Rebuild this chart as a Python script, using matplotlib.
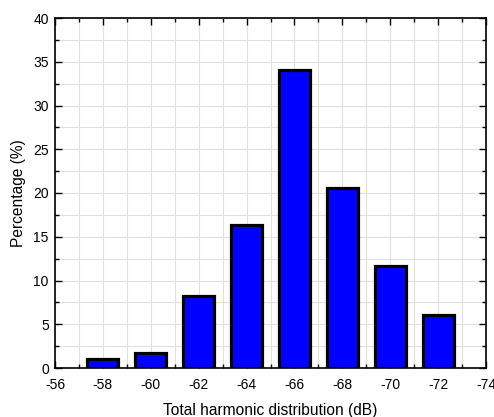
import matplotlib.pyplot as plt
from matplotlib.ticker import MultipleLocator

plt.rcParams['font.family'] = ['Liberation Sans', 'DejaVu Sans']
plt.rcParams['axes.unicode_minus'] = False

# Dados
thd_db = [-58, -60, -62, -64, -66, -68, -70, -72]
percent = [1.0, 1.75, 8.2, 16.4, 34.1, 20.6, 11.7, 6.1]

fig = plt.figure(figsize=(4.94, 4.17), dpi=100)
ax = fig.add_axes([55 / 494, 1 - 368 / 417, 431 / 494, 350 / 417])

ax.bar(thd_db, percent, width=1.3, color='#0000ff', edgecolor='black',
       linewidth=2.3, zorder=3)

ax.set_xlim(-56, -74)
ax.set_ylim(0, 40)
ax.xaxis.set_major_locator(MultipleLocator(2))
ax.xaxis.set_minor_locator(MultipleLocator(1))
ax.yaxis.set_major_locator(MultipleLocator(5))
ax.yaxis.set_minor_locator(MultipleLocator(2.5))

ax.grid(True, which='both', color='#e0e0e0', linewidth=0.8, zorder=0)
ax.tick_params(which='both', direction='in', top=True, right=True,
               labelsize=10, width=1)
ax.tick_params(which='major', length=5)
ax.tick_params(which='minor', length=3)
ax.tick_params(axis='x', which='major', pad=7)
ax.tick_params(axis='y', which='major', pad=4.5)
for s in ax.spines.values():
    s.set_linewidth(1.2)

ax.set_xlabel("Total harmonic distribution (dB)", fontsize=11.2, labelpad=8)
ax.set_ylabel("Percentage (%)", fontsize=11.2, labelpad=5)

fig.savefig("out.png", dpi=100)
